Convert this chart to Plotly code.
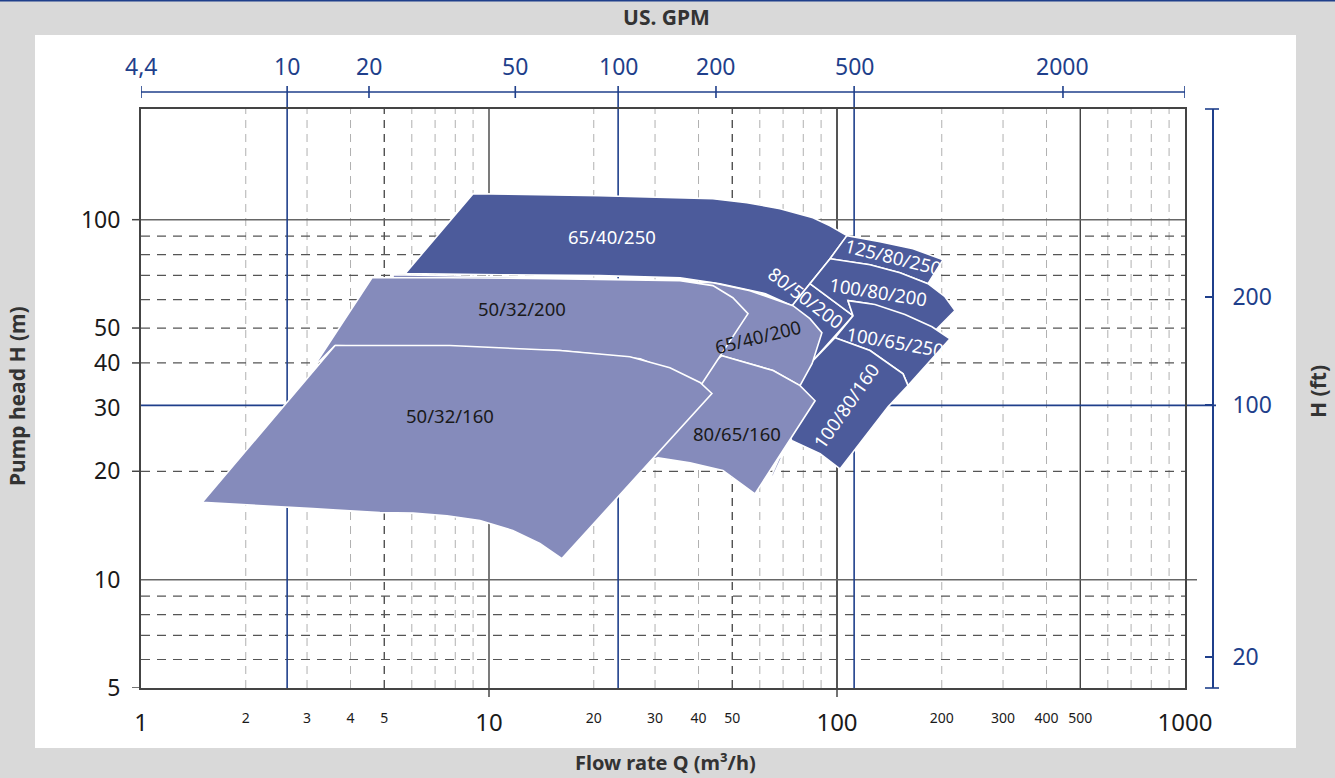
import math
import plotly.graph_objects as go

W, H = 1335, 778

# ---------------- data ----------------
# flow Q in m3/h, head H in m
q_65_40_250 = [5.74, 9.0, 20.8, 44.0, 55.1, 68.6, 85.3, 95.5, 106.8, 95.5, 83.6, 74.3, 62.3, 46.1, 35.4, 20.8, 10.75]
h_65_40_250 = [70.8, 118.1, 116.6, 114.4, 111.5, 107.3, 101.3, 96.2, 90.3, 77.9, 66.4, 57.7, 62.3, 66.4, 69.0, 69.9, 70.3]

q_80_50_200 = [74.3, 83.6, 111.2, 85.3, 78.3, 70.9]
h_80_50_200 = [57.7, 66.4, 54.1, 40.6, 40.1, 54.1]

q_125_80_250 = [106.8, 132.9, 165.4, 201.7, 182.6, 151.7, 124.4, 95.5]
h_125_80_250 = [90.3, 86.9, 83.1, 77.4, 66.4, 71.2, 75.0, 77.9]

q_100_80_200 = [95.5, 124.4, 151.7, 182.6, 204.3, 218.3, 188.7, 156.8, 124.4, 107.5, 111.2, 83.6]
h_100_80_200 = [77.9, 75.0, 71.2, 66.4, 61.1, 55.9, 48.5, 54.1, 58.4, 59.6, 54.1, 66.4]

q_100_65_250 = [107.5, 128.6, 156.8, 187.5, 211.2, 160.0, 154.8, 124.4, 98.7, 111.2]
h_100_65_250 = [59.6, 58.1, 54.5, 50.4, 46.7, 34.6, 37.3, 43.3, 47.0, 54.1]

q_100_80_160 = [98.7, 124.4, 154.8, 160.0, 140.2, 102.0, 89.4, 74.3, 68.6, 78.3, 85.3]
h_100_80_160 = [47.0, 43.3, 37.3, 34.6, 30.2, 20.3, 22.4, 24.3, 27.6, 35.7, 40.6]

q_65_40_200 = [5.30, 10.75, 20.8, 44.0, 56.2, 74.7, 83.6, 90.5, 84.8, 78.3, 65.5, 46.7, 40.4, 5.30]
h_65_40_200 = [70.3, 69.4, 68.6, 66.8, 63.5, 57.7, 53.1, 48.5, 39.8, 34.6, 38.1, 41.9, 46.1, 63.5]

q_80_65_160 = [46.7, 65.5, 78.3, 86.5, 58.1, 47.0, 37.8, 30.6, 27.2, 40.4]
h_80_65_160 = [41.9, 38.1, 34.6, 31.4, 17.3, 20.1, 21.1, 21.8, 21.1, 37.6]

q_sliver = [62.5, 68.1, 70.4, 65.9]
h_sliver = [18.0, 21.7, 22.5, 19.6]

q_50_32_200 = [4.61, 7.72, 14.97, 35.4, 44.0, 50.2, 55.5, 40.9, 27.2, 16.0, 3.61, 3.12]
h_50_32_200 = [69.0, 69.0, 68.6, 67.7, 65.6, 60.7, 54.8, 35.0, 41.1, 43.3, 44.7, 38.8]

q_50_32_160 = [3.61, 7.72, 16.0, 25.4, 33.1, 40.4, 43.7, 16.2, 14.0, 11.7, 9.42, 7.57, 6.05, 4.86, 3.12, 1.50]
h_50_32_160 = [44.7, 44.7, 43.3, 41.6, 38.8, 35.3, 32.9, 11.44, 12.6, 13.7, 14.6, 15.05, 15.3, 15.35, 15.75, 16.4]

region_labels = ["65/40/250", "50/32/200", "50/32/160", "80/65/160", "65/40/200",
                 "80/50/200", "125/80/250", "100/80/200", "100/65/250", "100/80/160"]
label_q = [22.6, 12.4, 7.72, 51.6, 59.3, 81.5, 144.9, 131.2, 146.8, 106.2]
label_h = [89.7, 56.6, 28.6, 25.4, 47.3, 60.7, 78.9, 63.1, 45.8, 30.4]
label_angle = [0, 0, 0, 0, -14, 37, 14, 9, 10, -55]
label_on_dark = [True, False, False, False, False, True, True, True, True, True]

# axes ticks
x_major = [1, 10, 100, 1000]
x_minor = [2, 3, 4, 5, 20, 30, 40, 50, 200, 300, 400, 500]
y_ticks = [5, 10, 20, 30, 40, 50, 100]
ft_ticks = [20, 100, 200]
gpm_labels = ["4,4", "10", "20", "50", "100", "200", "500", "2000"]
gpm_pos_q = [1.0, 2.63, 4.52, 11.9, 23.5, 44.9, 112, 446]   # positions on the m3/h scale
gpm_long = ["10", "100", "500"]

grid_light_x = [2, 3, 4, 6, 7, 8, 9, 20, 30, 40, 60, 70, 80, 90, 200, 300, 400, 600, 700, 800, 900]
grid_dark_dash_x = [5, 50]
grid_solid_x = [10, 100, 500]
grid_dash_y = [6, 7, 8, 9, 20, 40, 50, 60, 70, 80, 90]

Q_MIN, Q_MAX = 1, 1000
H_MIN, H_MAX = 5, 203
FT = 0.3048

# ---------------- style ----------------
DARK = "#4c5b9b"
LIGHT = "#858bbb"
BLUE = "#1f3f8b"
TXT = "#1a1a1a"
TITLE = "#333333"
FONT = "Noto Sans"

def px(x):
    return x / W

def py(y):
    return 1 - y / H

fig = go.Figure()

regions = [
    (q_65_40_250, h_65_40_250, DARK),
    (q_80_50_200, h_80_50_200, DARK),
    (q_125_80_250, h_125_80_250, DARK),
    (q_100_80_200, h_100_80_200, DARK),
    (q_100_65_250, h_100_65_250, DARK),
    (q_100_80_160, h_100_80_160, DARK),
    (q_65_40_200, h_65_40_200, LIGHT),
    (q_80_65_160, h_80_65_160, LIGHT),
    (q_sliver, h_sliver, LIGHT),
    (q_50_32_200, h_50_32_200, LIGHT),
    (q_50_32_160, h_50_32_160, LIGHT),
]
for q, h, c in regions:
    fig.add_trace(go.Scatter(x=q + [q[0]], y=h + [h[0]], mode="lines", fill="toself",
                             fillcolor=c, line=dict(color="white", width=1.6),
                             hoverinfo="skip", xaxis="x", yaxis="y"))

fig.add_trace(go.Scatter(x=[Q_MIN], y=[H_MIN / FT], mode="markers", marker=dict(opacity=0),
                         xaxis="x3", yaxis="y2", hoverinfo="skip"))

shapes = []
shapes.append(dict(type="rect", xref="paper", yref="paper", x0=px(35), x1=px(1296), y0=py(748), y1=py(35),
                   fillcolor="white", line=dict(width=0), layer="below"))
shapes.append(dict(type="line", xref="paper", yref="paper", x0=0, x1=1, y0=py(0.8), y1=py(0.8),
                   line=dict(color=BLUE, width=1.6), layer="below"))

for v in grid_light_x:
    shapes.append(dict(type="line", xref="x", yref="y domain", x0=v, x1=v, y0=0, y1=1,
                       line=dict(color="#b0b0b0", width=1, dash="8px,6px"), layer="below"))
for v in grid_dark_dash_x:
    shapes.append(dict(type="line", xref="x", yref="y domain", x0=v, x1=v, y0=0, y1=1,
                       line=dict(color="#333333", width=1.2, dash="8px,6px"), layer="below"))
for v in grid_solid_x:
    shapes.append(dict(type="line", xref="x", yref="y domain", x0=v, x1=v, y0=0, y1=1,
                       line=dict(color="#555555" if v == 100 else "#222222", width=2 if v == 100 else 1.2),
                       layer="below"))
for hv in grid_dash_y:
    shapes.append(dict(type="line", xref="x domain", yref="y", x0=0, x1=1, y0=hv, y1=hv,
                       line=dict(color="#555555", width=1.2, dash="9px,7px"), layer="below"))
shapes.append(dict(type="line", xref="x domain", yref="y", x0=0, x1=1, y0=100, y1=100,
                   line=dict(color="#666666", width=1.5), layer="below"))
shapes.append(dict(type="line", xref="paper", yref="y", x0=px(141), x1=px(1197), y0=10, y1=10,
                   line=dict(color="#666666", width=1.5), layer="below"))
shapes.append(dict(type="line", xref="paper", yref="y2", x0=px(141), x1=px(1216), y0=100, y1=100,
                   line=dict(color=BLUE, width=1.6), layer="below"))

shapes.append(dict(type="line", xref="x", yref="paper", x0=Q_MIN, x1=Q_MAX, y0=py(92), y1=py(92),
                   line=dict(color=BLUE, width=1.6), layer="below"))
for lab, q in zip(gpm_labels, gpm_pos_q):
    if lab in gpm_long:
        shapes.append(dict(type="line", xref="x", yref="paper", x0=q, x1=q, y0=py(688), y1=py(86),
                           line=dict(color=BLUE, width=1.6), layer="below"))
    else:
        shapes.append(dict(type="line", xref="x", yref="paper", x0=q, x1=q, y0=py(98), y1=py(86),
                           line=dict(color=BLUE, width=1.6), layer="below"))
shapes.append(dict(type="line", xref="x", yref="paper", x0=Q_MAX, x1=Q_MAX, y0=py(98), y1=py(86),
                   line=dict(color=BLUE, width=1.6), layer="below"))

for yd in (0, 1):
    shapes.append(dict(type="line", xref="paper", yref="y domain", x0=px(1205), x1=px(1219), y0=yd, y1=yd,
                       line=dict(color=BLUE, width=1.6)))
for hv in [5, 20, 40, 50, 100]:
    shapes.append(dict(type="line", xref="paper", yref="y", x0=px(132), x1=px(141), y0=hv, y1=hv,
                       line=dict(color="#444444", width=1.5)))
for v in [10, 100]:
    shapes.append(dict(type="line", xref="x", yref="paper", x0=v, x1=v, y0=py(697), y1=py(688),
                       line=dict(color="#444444", width=1.5)))

annotations = []
for lab, q in zip(gpm_labels, gpm_pos_q):
    annotations.append(dict(x=math.log10(q), y=py(66), xref="x", yref="paper", text=lab, showarrow=False,
                            font=dict(family=FONT, size=23, color=BLUE), xanchor="center", yanchor="middle"))

for t, q, h, a, dk in zip(region_labels, label_q, label_h, label_angle, label_on_dark):
    annotations.append(dict(x=math.log10(q), y=math.log10(h), xref="x", yref="y", text=t, showarrow=False,
                            xanchor="center", yanchor="middle",
                            textangle=a, font=dict(family=FONT, size=18.5, color="white" if dk else TXT)))

annotations += [
    dict(x=0.4996, y=py(17), xref="paper", yref="paper", text="<b>US. GPM</b>", showarrow=False,
         xanchor="center", yanchor="middle", font=dict(family=FONT, size=21, color=TITLE)),
    dict(x=px(665), y=py(777), xref="paper", yref="paper", text="<b>Flow rate Q (m³/h)</b>", showarrow=False,
         xanchor="center", yanchor="bottom", borderpad=0, font=dict(family=FONT, size=20, color=TITLE)),
    dict(x=px(17), y=py(396), xref="paper", yref="paper", text="<b>Pump head H (m)</b>", showarrow=False,
         xanchor="center", yanchor="middle", textangle=-90, font=dict(family=FONT, size=21, color=TITLE)),
    dict(x=px(1318), y=py(392), xref="paper", yref="paper", text="<b>H (ft)</b>", showarrow=False,
         xanchor="center", yanchor="middle", textangle=-90, font=dict(family=FONT, size=21, color=TITLE)),
]

xdom = [px(141), px(1185)]
ydom = [py(688), py(109)]

fig.update_layout(
    width=W, height=H, margin=dict(l=0, r=0, t=0, b=0, autoexpand=False),
    paper_bgcolor="#d9d9d9", plot_bgcolor="white", showlegend=False,
    font=dict(family=FONT),
    shapes=shapes, annotations=annotations,
    xaxis=dict(type="log", range=[math.log10(Q_MIN), math.log10(Q_MAX)], domain=xdom,
               tickvals=x_major, ticktext=[str(v) for v in x_major], ticks="",
               tickfont=dict(family=FONT, size=24, color=TXT), ticklabelstandoff=12,
               showgrid=False, zeroline=False, showline=True, mirror=True,
               linecolor="#444444", linewidth=2, anchor="y", automargin=False),
    xaxis3=dict(type="log", range=[math.log10(Q_MIN), math.log10(Q_MAX)], domain=xdom,
                overlaying="x", anchor="y", side="bottom",
                tickvals=x_minor, ticktext=[str(v) for v in x_minor], ticks="",
                tickfont=dict(family=FONT, size=14, color=TXT), ticklabelstandoff=20,
                showgrid=False, zeroline=False, showline=False, automargin=False),
    yaxis=dict(type="log", range=[math.log10(H_MIN), math.log10(H_MAX)], domain=ydom,
               tickvals=y_ticks, ticktext=[str(v) for v in y_ticks], ticks="",
               tickfont=dict(family=FONT, size=23, color=TXT), ticklabelstandoff=14,
               showgrid=False, zeroline=False, showline=True, mirror=True,
               linecolor="#444444", linewidth=2, anchor="x", automargin=False),
    yaxis2=dict(type="log", range=[math.log10(H_MIN / FT), math.log10(H_MAX / FT)], domain=ydom,
                overlaying="y", anchor="free", position=px(1213), side="right",
                tickvals=ft_ticks, ticktext=[str(v) for v in ft_ticks], ticks="inside", ticklen=7,
                tickcolor=BLUE, tickwidth=1.6,
                tickfont=dict(family=FONT, size=23, color=BLUE), ticklabelstandoff=14,
                showgrid=False, zeroline=False, showline=True, linecolor=BLUE, linewidth=1.6,
                automargin=False),
)

fig.write_html("out.html", config={"displayModeBar": False},
               post_script="document.body.style.margin='0';")
